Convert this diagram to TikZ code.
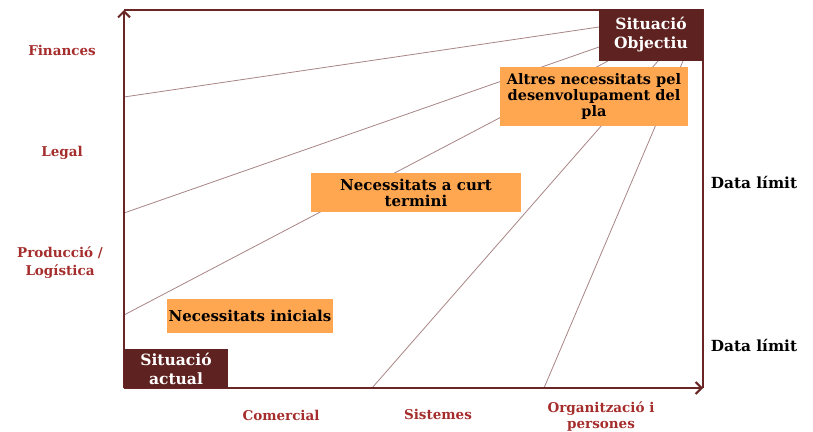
\documentclass[tikz,border=0pt]{standalone}
\usepackage{fontspec}
\setmainfont{DejaVu Serif}
\usetikzlibrary{arrows.meta}
\definecolor{boxbrown}{HTML}{5E2220}
\definecolor{axisbrown}{HTML}{6A2624}
\definecolor{thinline}{HTML}{A88484}
\definecolor{boxorange}{HTML}{FFA650}
\definecolor{labred}{HTML}{A52E2D}
\tikzset{
  darkbox/.style={fill=boxbrown, text=white, font=\bfseries\fontsize{15.5}{19}\selectfont, align=center, inner sep=0pt},
  orangebox/.style={fill=boxorange, text=black, font=\bfseries\fontsize{15}{16}\selectfont, align=center, inner sep=0pt},
  axislab/.style={text=labred, font=\bfseries\fontsize{13.5}{18}\selectfont, align=center},
  datelab/.style={text=black, font=\bfseries\fontsize{15.3}{17}\selectfont},
  ray/.style={draw=thinline, line width=0.8pt},
  axis/.style={draw=axisbrown, line width=2.8pt, -{Straight Barb[length=6pt,width=12pt,line width=2pt]}},
  border/.style={draw=axisbrown, line width=1.4pt}
}
\begin{document}
\begin{tikzpicture}[x=1pt,y=-1pt]
\useasboundingbox (0,0) rectangle (813,431);
% corner coordinates
\coordinate (O) at (124,388);
\coordinate (TL) at (124,10);
\coordinate (TR) at (703,10);
\coordinate (BR) at (703,388);
% ray start points
\coordinate (l1) at (124,97);
\coordinate (l2) at (124,213);
\coordinate (l3) at (124,315);
\coordinate (b1) at (372,388);
\coordinate (b2) at (544,388);
% ray end points (on Situació Objectiu)
\coordinate (e1) at (599,27);
\coordinate (e2) at (599,47);
\coordinate (e3) at (608,61);
\coordinate (e4) at (658,61);
\coordinate (e5) at (683,61);
% frame
\draw[border] (TL) -- (TR) -- (BR);
% rays
\draw[ray] (l1) -- (e1);
\draw[ray] (l2) -- (e2);
\draw[ray] (l3) -- (e3);
\draw[ray] (b1) -- (e4);
\draw[ray] (b2) -- (e5);
% axes
\draw[axis] (O) -- (TL);
\draw[axis] (O) -- (BR);
% boxes
\node[darkbox, minimum width=104pt, minimum height=52pt] (so) at (651,35) {Situació\\Objectiu};
\node[darkbox, minimum width=104pt, minimum height=39pt] (sa) at (176,368.5) {Situació\\actual};
\node[orangebox, font=\bfseries\fontsize{14.5}{16}\selectfont, minimum width=188pt, minimum height=59pt] (altres) at (594,96.5) {Altres necessitats pel\\desenvolupament del\\pla};
\node[orangebox, minimum width=210pt, minimum height=39pt] (curt) at (416,192.5) {Necessitats a curt\\termini};
\node[orangebox, minimum width=166pt, minimum height=34pt] (inic) at (250,316) {Necessitats inicials};
% axis labels
\node[axislab] (fin) at (62,50) {Finances};
\node[axislab] (leg) at (62,153) {Legal};
\node[axislab] (prod) at (60,263) {Producció /\\Logística};
\node[axislab, font=\bfseries\fontsize{13.5}{17}\selectfont] (com) at (281,415) {Comercial};
\node[axislab] (sis) at (438,414) {Sistemes};
\node[axislab, font=\bfseries\fontsize{13.5}{16}\selectfont] (org) at (601,416) {Organització i\\persones};
\node[datelab] (d1) at (754,182) {Data límit};
\node[datelab] (d2) at (754,345) {Data límit};
\end{tikzpicture}
\end{document}
